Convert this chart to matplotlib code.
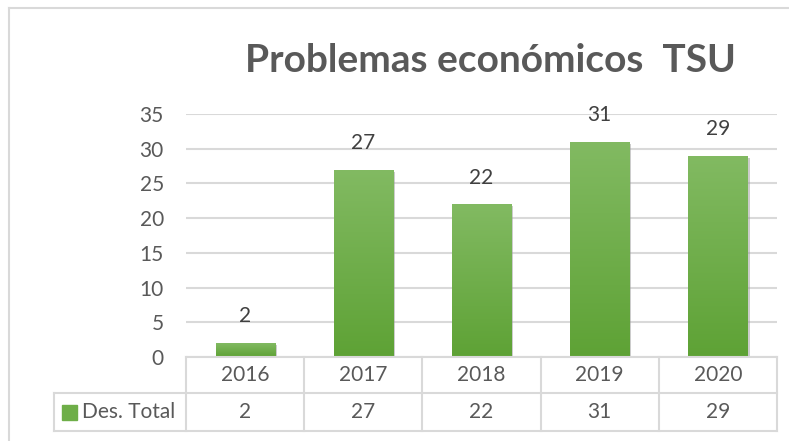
import matplotlib.pyplot as plt
import numpy as np
from matplotlib.colors import LinearSegmentedColormap
from matplotlib.lines import Line2D
from matplotlib.patches import Rectangle
import matplotlib.patheffects as pe
import matplotlib.transforms as mtransforms

# datos
years = ['2016', '2017', '2018', '2019', '2020']
des_total = [2, 27, 22, 31, 29]
serie_nombre = 'Des. Total'
titulo = 'Problemas económicos  TSU'
yticks = [0, 5, 10, 15, 20, 25, 30, 35]

plt.rcParams['font.family'] = ['Lato', 'DejaVu Sans']
gris_txt = '#595959'
gris_lin = '#D9D9D9'

W, H = 789, 441
fig = plt.figure(figsize=(W / 100, H / 100), dpi=100)

# borde del gráfico (solo izquierda y arriba visibles)
fig.add_artist(Line2D([9 / W, 9 / W], [0, 1 - 8 / H], transform=fig.transFigure,
                      color=gris_lin, lw=1.5))
fig.add_artist(Line2D([9 / W, 1], [1 - 8 / H, 1 - 8 / H], transform=fig.transFigure,
                      color=gris_lin, lw=1.5))

ax = fig.add_axes([186 / W, (H - 357) / H, (777 - 186) / W, (357 - 114) / H])
x = np.arange(len(years))
ax.set_yticks(yticks)
ax.set_xticks([])
ax.tick_params(axis='y', length=0, pad=16, labelsize=15, labelcolor=gris_txt)
for s in ax.spines.values():
    s.set_visible(False)
ax.grid(axis='y', color=gris_lin, lw=1.5)
ax.set_axisbelow(True)

# barras con degradado
cmap = LinearSegmentedColormap.from_list('verde', ['#5EA235', '#82BA62'])
grad = np.linspace(0, 1, 256).reshape(-1, 1)
bars = ax.bar(x, des_total, width=0.5, color='#6EAE48', zorder=2,
              path_effects=[pe.SimplePatchShadow(offset=(1.5, -1.5), shadow_rgbFace='#9a9a9a', alpha=0.5),
                            pe.Normal()])
for b in bars:
    x0, y0 = b.get_x(), b.get_y()
    w, h = b.get_width(), b.get_height()
    im = ax.imshow(grad, cmap=cmap, origin='lower', aspect='auto',
                   extent=(x0, x0 + w, y0, y0 + h), zorder=3)
    im.set_clip_path(b)
ax.set_xlim(-0.5, len(years) - 0.5)
ax.set_ylim(0, 35)

for xi, v in zip(x, des_total):
    ax.annotate(str(v), (xi, v), xytext=(0, 12), textcoords='offset points',
                ha='center', va='bottom', fontsize=15, color='#404040')

# título
fig.text(490 / W, 1 - 60 / H, titulo, ha='center', va='center',
         fontsize=28, fontweight='bold', color=gris_txt)

# tabla de datos
trans = mtransforms.blended_transform_factory(ax.transData, fig.transFigure)
y_top = 1 - 357 / H
y_mid = 1 - 393 / H
y_bot = 1 - 431 / H
x_leg = 54 / W
bordes = np.arange(len(years) + 1) - 0.5
kw = dict(color=gris_lin, lw=1.5, clip_on=False)
fig.add_artist(Line2D([bordes[0], bordes[-1]], [y_top, y_top], transform=trans, **kw))
for bx in bordes:
    fig.add_artist(Line2D([bx, bx], [y_top, y_bot], transform=trans, **kw))
x_left_data = ax.transData.inverted().transform(fig.transFigure.transform((x_leg, 0)))[0]
for yy in (y_mid, y_bot):
    fig.add_artist(Line2D([x_left_data, bordes[-1]], [yy, yy], transform=trans, **kw))
fig.add_artist(Line2D([x_leg, x_leg], [y_mid, y_bot], transform=fig.transFigure, **kw))

for xi, yr, v in zip(x, years, des_total):
    fig.text(xi, (y_top + y_mid) / 2, yr, transform=trans, ha='center', va='center',
             fontsize=15, color=gris_txt)
    fig.text(xi, (y_mid + y_bot) / 2, str(v), transform=trans, ha='center', va='center',
             fontsize=15, color=gris_txt)

# clave de leyenda
fig.add_artist(Rectangle((62 / W, 1 - 420 / H), 15 / W, 15 / H, transform=fig.transFigure,
                         color='#6EAE48'))
fig.text(82 / W, (y_mid + y_bot) / 2, serie_nombre, ha='left', va='center',
         fontsize=15, color=gris_txt)

fig.savefig('out.png', dpi=100)
